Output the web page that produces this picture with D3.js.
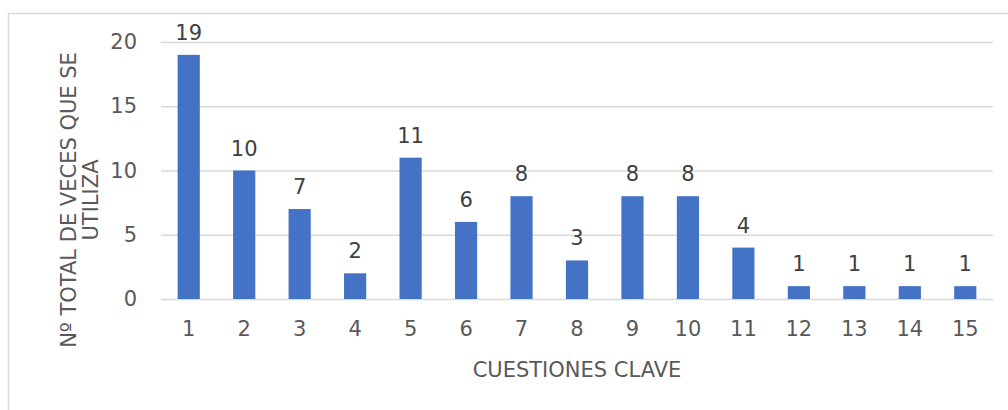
<!DOCTYPE html>
<html>
<head>
<meta charset="utf-8">
<script src="https://cdn.jsdelivr.net/npm/d3@7"></script>
<style>
  html, body { margin: 0; padding: 0; background: #fff; }
  svg { display: block; font-family: "DejaVu Sans", sans-serif; }
</style>
</head>
<body>
<svg id="chart" width="1008" height="410"></svg>
<script>
// Key questions and how many times each is used
const categories = ["1","2","3","4","5","6","7","8","9","10","11","12","13","14","15"];
const counts = [19, 10, 7, 2, 11, 6, 8, 3, 8, 8, 4, 1, 1, 1, 1];
const yTicks = [0, 5, 10, 15, 20];
const xTitle = "CUESTIONES CLAVE";
const yTitleLines = ["Nº TOTAL DE VECES QUE SE", "UTILIZA"];

const svg = d3.select("#chart");
const W = 1008, H = 410;
const margin = { left: 161, right: 15, top: 42, bottom: 111 };
const fontSize = 21;
const textColor = "#595959";
const gridColor = "#d9d9d9";
const barColor = "#4472c4";

// outer chart frame
svg.append("rect")
  .attr("x", 8.5).attr("y", 13.5)
  .attr("width", W + 20).attr("height", H + 20)
  .attr("fill", "none").attr("stroke", gridColor).attr("stroke-width", 1.5);

const x = d3.scaleBand()
  .domain(categories)
  .range([margin.left, W - margin.right])
  .paddingInner(0.6).paddingOuter(0.3);

const y = d3.scaleLinear()
  .domain([0, 20])
  .range([H - margin.bottom, margin.top]);

// horizontal gridlines + y tick labels
const yAxis = d3.axisLeft(y).tickValues(yTicks).tickSize(-(W - margin.right - margin.left)).tickPadding(24);
const gy = svg.append("g").attr("transform", `translate(${margin.left},0)`).call(yAxis);
gy.select(".domain").remove();
gy.selectAll(".tick line").attr("stroke", gridColor).attr("stroke-width", 1.5);
gy.selectAll(".tick text").attr("fill", textColor).attr("font-size", fontSize).attr("font-family", "DejaVu Sans");

// bars
svg.append("g").selectAll("rect")
  .data(counts)
  .join("rect")
  .attr("x", (d, i) => x(categories[i]))
  .attr("width", x.bandwidth())
  .attr("y", d => y(d))
  .attr("height", d => y(0) - y(d))
  .attr("fill", barColor);

// value labels
svg.append("g").selectAll("text")
  .data(counts)
  .join("text")
  .attr("x", (d, i) => x(categories[i]) + x.bandwidth() / 2)
  .attr("y", d => y(d) - 15)
  .attr("text-anchor", "middle")
  .attr("fill", "#404040")
  .attr("font-size", fontSize)
  .text(d => d);

// x tick labels
const xAxis = d3.axisBottom(x).tickSize(0).tickPadding(22);
const gx = svg.append("g").attr("transform", `translate(0,${y(0)})`).call(xAxis);
gx.select(".domain").remove();
gx.selectAll(".tick text").attr("fill", textColor).attr("font-size", fontSize).attr("font-family", "DejaVu Sans");

// axis titles
svg.append("text")
  .attr("x", 577)
  .attr("y", 377)
  .attr("text-anchor", "middle")
  .attr("fill", textColor)
  .attr("font-size", fontSize)
  .text(xTitle);

const yt = svg.append("text")
  .attr("transform", "translate(76,200) rotate(-90)")
  .attr("text-anchor", "middle")
  .attr("fill", textColor)
  .attr("font-size", fontSize);
yTitleLines.forEach((line, i) => {
  yt.append("tspan").attr("x", 0).attr("dy", i === 0 ? 0 : 22).text(line);
});
</script>
</body>
</html>
